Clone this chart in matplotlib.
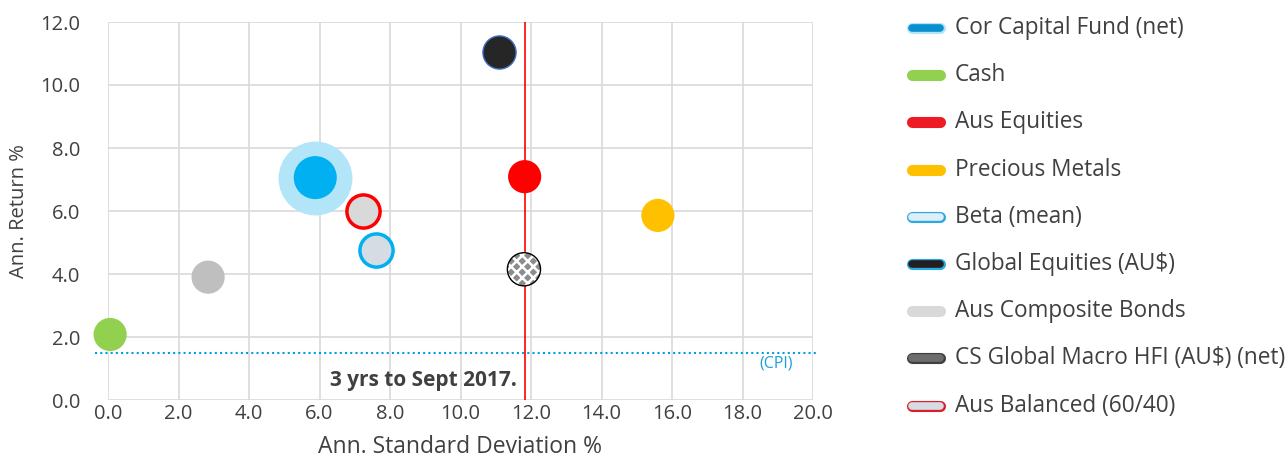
import matplotlib.pyplot as plt
from matplotlib.lines import Line2D
import matplotlib.patheffects as pe

plt.rcParams['font.family'] = ['Open Sans', 'DejaVu Sans']
plt.rcParams['hatch.linewidth'] = 1.8

# data
names = ['Cor Capital Fund (net)', 'Cash', 'Aus Equities', 'Precious Metals',
         'Beta (mean)', 'Global Equities (AU$)', 'Aus Composite Bonds',
         'CS Global Macro HFI (AU$) (net)', 'Aus Balanced (60/40)']
std_dev = [5.88, 0.06, 11.82, 15.6, 7.59, 11.1, 2.84, 11.8, 7.22]
ann_ret = [7.06, 2.08, 7.09, 5.86, 4.76, 11.04, 3.9, 4.15, 6.0]
cpi = 1.5
vline_x = 11.82

# styling per series: face, edge, edge width
faces = ['#00b0f0', '#92d050', '#ff0000', '#ffc000', '#d6dce4', '#262626',
         '#bfbfbf', '#7f7f7f', '#d9d9d9']
edges = ['none', 'none', 'none', 'none', '#00b0f0', '#4472c4', 'none', 'black', '#ff0000']
ewidth = [0, 0, 0, 0, 2.5, 1.0, 0, 1.0, 2.5]

txt = '#404040'

fig = plt.figure(figsize=(12.88, 4.61), dpi=100)
ax = fig.add_axes([108 / 1288, 1 - 400 / 461, 705 / 1288, 378 / 461])

ax.set_xlim(0, 20)
ax.set_ylim(0, 12)
ax.set_xticks([i * 2 for i in range(11)])
ax.set_yticks([i * 2 for i in range(7)])
ax.set_xticklabels([f'{i * 2:.1f}' for i in range(11)])
ax.set_yticklabels([f'{i * 2:.1f}' for i in range(7)])
ax.tick_params(length=0, labelsize=14.5, colors=txt)
ax.tick_params(axis='x', pad=3)
ax.tick_params(axis='y', pad=20)
ax.grid(True, color='#d9d9d9', linewidth=1.2)
ax.set_axisbelow(True)
for s in ax.spines.values():
    s.set_visible(False)

ax.set_xlabel('Ann. Standard Deviation %', fontsize=16.5, color=txt, labelpad=8)
ax.set_ylabel('Ann. Return %', fontsize=14.5, color=txt, labelpad=8)

# CPI dotted line and red vertical line
ax.plot([-0.37, 20.1], [cpi, cpi], linestyle=(0, (1, 1.5)), color='#00a0e0',
        linewidth=1.5, clip_on=False, zorder=2)
ax.axvline(vline_x, color='#ff0000', linewidth=1.2, zorder=3)
ax.text(18.95, 1.17, '(CPI)', color='#1ea0d8', fontsize=11.5, ha='center', va='center')
ax.text(6.3, 0.63, '3 yrs to Sept 2017.', color=txt, fontsize=15,
        fontweight='bold', ha='left', va='center')

# halo for the fund
ax.scatter(std_dev[0], ann_ret[0], s=2830, color='#b3e5f8', zorder=4, linewidths=0)

for i in range(len(names)):
    size = 960 if i == 0 else 570
    if i == 7:
        ax.scatter(std_dev[i], ann_ret[i], s=size, facecolor='#8c8c8c',
                   edgecolor='white', hatch='xxx', linewidths=0, zorder=5)
        ax.scatter(std_dev[i], ann_ret[i], s=size, facecolor='none',
                   edgecolor='black', linewidths=1.0, zorder=6)
    else:
        ax.scatter(std_dev[i], ann_ret[i], s=size, facecolor=faces[i],
                   edgecolor=edges[i], linewidths=ewidth[i], zorder=5,
                   clip_on=False)

# legend drawn by hand on its own axes
lg = fig.add_axes([0, 0, 1, 1])
lg.set_xlim(0, 1288)
lg.set_ylim(461, 0)
lg.axis('off')
legend_border = ['#b3e5f8', '#92d050', '#ed1c24', '#ffc000', '#29abe2', '#29abe2',
                 '#d9d9d9', '#404040', '#d7202b']
legend_fill = ['#0a8fd0', '#92d050', '#ed1c24', '#ffc000', '#deeff8', '#231f20',
               '#d9d9d9', '#6d6d6d', '#d6dce4']
for i, name in enumerate(names):
    y = 28 + i * 47.2
    ln = Line2D([912, 940], [y, y], color=legend_fill[i], linewidth=5.5,
                solid_capstyle='round')
    ln.set_path_effects([pe.Stroke(linewidth=8, foreground=legend_border[i],
                                   capstyle='round'), pe.Normal()])
    lg.add_line(ln)
    lg.text(955, y, name, fontsize=16.3, color=txt, va='center', ha='left')

fig.savefig('out.png', dpi=100)
